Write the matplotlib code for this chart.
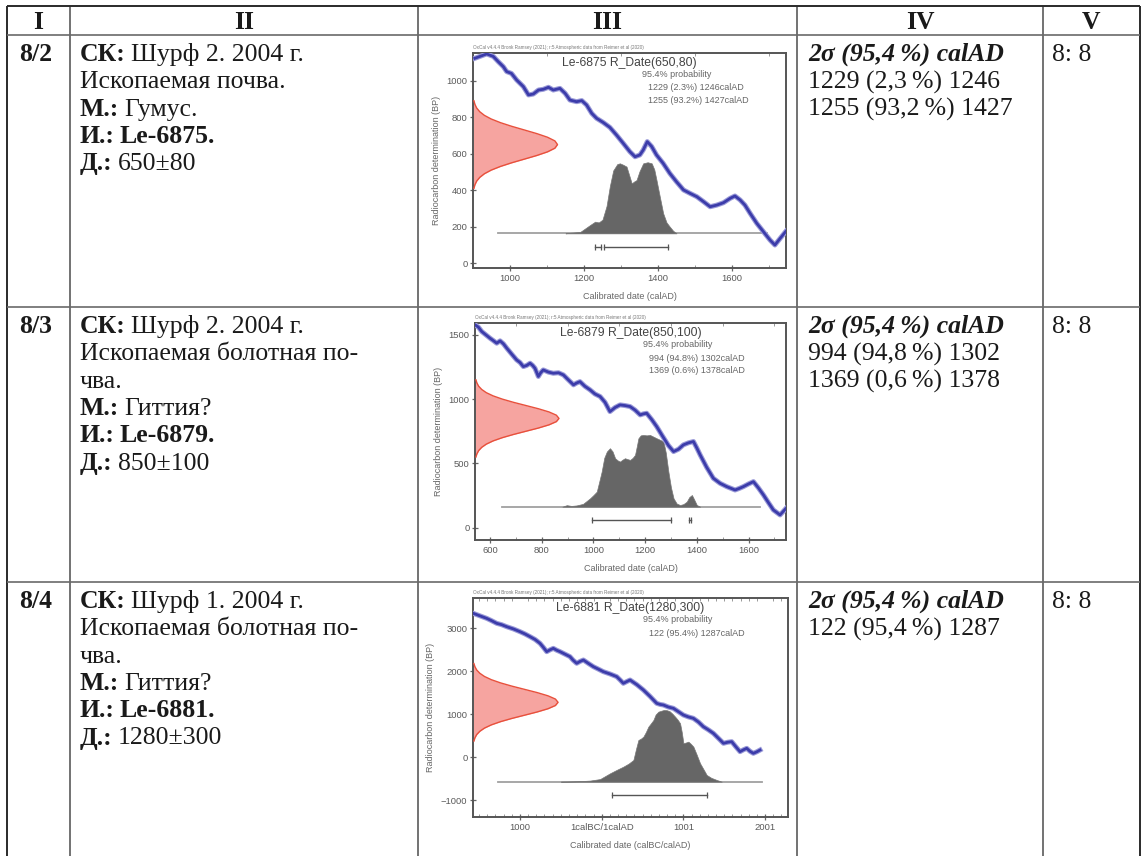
import matplotlib
matplotlib.use("Agg")
import matplotlib.pyplot as plt
import matplotlib.transforms as mtransforms
from matplotlib.ticker import MultipleLocator, FixedLocator

W, H = 1142, 856

# ---------------- table content ----------------
headers = ["I", "II", "III", "IV", "V"]
row_ids = ["8/2", "8/3", "8/4"]
row_sk = ["Шурф 2. 2004 г.", "Шурф 2. 2004 г.", "Шурф 1. 2004 г."]
row_desc = [["Ископаемая почва."],
            ["Ископаемая болотная по-", "чва."],
            ["Ископаемая болотная по-", "чва."]]
row_material = ["Гумус.", "Гиттия?", "Гиттия?"]
row_lab = ["Le-6875.", "Le-6879.", "Le-6881."]
row_date = ["650±80", "850±100", "1280±300"]
row_cal_head = "2σ (95,4\u2009%) calAD"
row_cal = [["1229 (2,3\u2009%) 1246", "1255 (93,2\u2009%) 1427"],
           ["994 (94,8\u2009%) 1302", "1369 (0,6\u2009%) 1378"],
           ["122 (95,4\u2009%) 1287"]]
row_ref = ["8: 8", "8: 8", "8: 8"]

# ---------------- OxCal plot content ----------------
c14_name = ["Le-6875 R_Date(650,80)", "Le-6879 R_Date(850,100)", "Le-6881 R_Date(1280,300)"]
c14_mean = [650, 850, 1280]
c14_sd = [80, 100, 300]
range_txt = [["1229 (2.3%) 1246calAD", "1255 (93.2%) 1427calAD"],
             ["994 (94.8%) 1302calAD", "1369 (0.6%) 1378calAD"],
             ["122 (95.4%) 1287calAD"]]
ranges = [[(1229, 1246), (1255, 1427)],
          [(994, 1302), (1369, 1378)],
          [(122, 1287)]]
xlabels = ["Calibrated date (calAD)", "Calibrated date (calAD)", "Calibrated date (calBC/calAD)"]

# calibration curves (cal year, BP)
cal1_x = [905, 937, 955, 968, 982, 991, 1004, 1018, 1036, 1050, 1063, 1077, 1090, 1104, 1117, 1135,
          1149, 1162, 1180, 1194, 1207, 1221, 1234, 1252, 1270, 1288, 1306, 1324, 1338, 1351, 1360,
          1371, 1383, 1396, 1414, 1432, 1450, 1469, 1487, 1505, 1523, 1541, 1559, 1577, 1595, 1608,
          1622, 1635, 1649, 1667, 1685, 1703, 1716, 1730, 1746]
cal1_y = [1123, 1147, 1133, 1105, 1077, 1050, 1040, 1004, 968, 922, 927, 949, 953, 964, 949, 958,
          931, 894, 885, 891, 867, 821, 794, 771, 744, 702, 657, 611, 583, 593, 620,
          666, 639, 593, 547, 492, 446, 401, 382, 364, 337, 309, 318, 331, 355, 368,
          346, 318, 273, 218, 172, 126, 99, 135, 175]
cal2_x = [542, 555, 568, 584, 600, 613, 626, 639, 652, 665, 684, 703, 716, 729, 742, 755, 765, 774,
          787, 796, 806, 826, 845, 865, 884, 903, 923, 935, 948, 967, 987, 1006, 1026, 1045, 1064,
          1084, 1103, 1122, 1142, 1161, 1181, 1193, 1206, 1226, 1245, 1265, 1290, 1310, 1329, 1348,
          1368, 1387, 1400, 1413, 1438, 1464, 1490, 1516, 1548, 1564, 1580, 1600, 1619, 1638, 1658,
          1677, 1696, 1722, 1745]
cal2_y = [1578, 1560, 1526, 1500, 1474, 1455, 1435, 1453, 1430, 1396, 1350, 1305, 1285, 1253, 1262,
          1279, 1262, 1240, 1176, 1205, 1227, 1210, 1201, 1205, 1188, 1150, 1111, 1125, 1136, 1100,
          1072, 1040, 1020, 975, 903, 935, 955, 950, 942, 915, 877, 885, 890, 840, 786, 720, 640, 592,
          610, 644, 660, 670, 620, 566, 470, 384, 345, 319, 293, 305, 319, 340, 358, 310, 254, 195,
          138, 99, 150]
cal3_x = [-1571, -1490, -1408, -1350, -1285, -1225, -1163, -1080, -1000, -940, -877, -815, -755,
          -715, -673, -632, -592, -550, -510, -450, -388, -350, -306, -265, -224, -160, -102, -40,
          20, 100, 184, 225, 265, 305, 347, 430, 510, 590, 673, 715, 755, 815, 878, 940, 1000, 1060,
          1122, 1185, 1244, 1305, 1367, 1430, 1490, 1540, 1591, 1640, 1693, 1735, 1775, 1815, 1856,
          1900, 1938]
cal3_y = [3348, 3290, 3232, 3180, 3116, 3085, 3038, 2985, 2922, 2870, 2806, 2740, 2651, 2560,
          2457, 2500, 2534, 2490, 2457, 2400, 2341, 2260, 2186, 2230, 2263, 2180, 2108, 2050,
          1992, 1940, 1876, 1800, 1721, 1760, 1798, 1690, 1566, 1420, 1256, 1230, 1217, 1170,
          1139, 1060, 984, 940, 907, 820, 713, 640, 558, 440, 326, 350, 364, 250, 132, 175, 209,
          140, 93, 130, 170]
cal_x = [cal1_x, cal2_x, cal3_x]
cal_y = [cal1_y, cal2_y, cal3_y]

# calibrated probability (cal year, height above baseline in BP units)
post1_x = [1150, 1162, 1190, 1216, 1230, 1240, 1250, 1261, 1270, 1279, 1290, 1297, 1306, 1315, 1322,
           1329, 1336, 1342, 1350, 1360, 1372, 1383, 1390, 1396, 1405, 1414, 1423, 1432, 1441, 1450]
post1_h = [0, 3, 8, 45, 64, 60, 75, 150, 260, 345, 380, 384, 376, 366, 320, 274, 285, 292, 340,
           384, 390, 384, 350, 292, 200, 110, 60, 36, 14, 0]
post2_x = [880, 897, 915, 935, 960, 987, 1000, 1013, 1022, 1032, 1042, 1052, 1064, 1074, 1084, 1094,
           1103, 1112, 1122, 1132, 1142, 1152, 1161, 1168, 1174, 1183, 1193, 1206, 1219, 1232, 1245,
           1258, 1271, 1280, 1290, 1300, 1310, 1322, 1335, 1348, 1361, 1371, 1381, 1390, 1400, 1413]
post2_h = [0, 12, 6, 10, 22, 65, 90, 117, 190, 273, 380, 429, 455, 430, 377, 360, 351, 365, 377,
           370, 364, 380, 403, 470, 532, 555, 558, 555, 558, 545, 532, 520, 507, 420, 273, 150, 65,
           25, 13, 20, 39, 75, 91, 55, 13, 0]
post3_x = [-500, -388, -260, -143, -20, 102, 180, 265, 330, 388, 420, 449, 480, 510, 540, 571, 600,
           633, 660, 694, 730, 760, 796, 830, 865, 898, 930, 959, 980, 1000, 1030, 1061, 1090, 1122,
           1160, 1204, 1245, 1285, 1340, 1408, 1469]
post3_h = [0, 5, 12, 25, 60, 194, 270, 349, 420, 504, 760, 969, 1000, 1047, 1150, 1279, 1350, 1434,
           1560, 1628, 1650, 1666, 1662, 1640, 1580, 1512, 1440, 1357, 1150, 892, 910, 930, 880,
           814, 640, 426, 290, 155, 90, 39, 0]
post_x = [post1_x, post2_x, post3_x]
post_h = [post1_h, post2_h, post3_h]
post_base = [163, 163, -566]
post_span = [(968, 1694), (645, 1645), (-1265, 1958)]

# normal profile of the radiocarbon date, read in sigma steps
prof_s = [-3.0, -2.75, -2.5, -2.25, -2.0, -1.75, -1.5, -1.25, -1.0, -0.75, -0.5, -0.25, 0.0,
          0.25, 0.5, 0.75, 1.0, 1.25, 1.5, 1.75, 2.0, 2.25, 2.5, 2.75, 3.0]
prof_v = [0.011, 0.023, 0.044, 0.080, 0.135, 0.216, 0.325, 0.458, 0.607, 0.755, 0.882, 0.969, 1.0,
          0.969, 0.882, 0.755, 0.607, 0.458, 0.325, 0.216, 0.135, 0.080, 0.044, 0.023, 0.011]

# axes setup per plot
xlims = [(900, 1746), (542, 1745), (-1575, 2280)]
ylims = [(-27, 1152), (-96, 1592), (-1388, 3705)]
xticks = [[1000, 1200, 1400, 1600], [600, 800, 1000, 1200, 1400, 1600], [-1000, 0, 1000, 2000]]
xticklabels = [["1000", "1200", "1400", "1600"],
               ["600", "800", "1000", "1200", "1400", "1600"],
               ["1000", "1calBC/1calAD", "1001", "2001"]]
yticks = [[0, 200, 400, 600, 800, 1000], [0, 500, 1000, 1500], [-1000, 0, 1000, 2000, 3000]]
boxes = [(473, 53, 786, 268), (475, 323, 786, 540), (473, 598, 788, 817)]
range_y = [90, 60, -876]

# ---------------- figure ----------------
fig = plt.figure(figsize=(W / 100, H / 100), dpi=100)
bg = fig.add_axes([0, 0, 1, 1])
bg.set_xlim(0, W)
bg.set_ylim(H, 0)
bg.axis("off")

col_x = [7, 70, 418, 797, 1043, 1140]
row_y = [6, 35, 307, 582]
for i, x in enumerate(col_x):
    outer = i in (0, len(col_x) - 1)
    bg.plot([x, x], [row_y[0], H], color="#2a2a2a" if outer else "#5a5a5a",
            lw=1.4 if outer else 1.2, solid_capstyle="butt")
for i, y in enumerate(row_y):
    bg.plot([col_x[0], col_x[-1]], [y, y], color="#2a2a2a" if i == 0 else "#6a6a6a",
            lw=1.4 if i == 0 else 1.2, solid_capstyle="butt")

serif = ["Liberation Serif", "DejaVu Serif"]
FS = 18.5
renderer = fig.canvas.get_renderer()


def rich(x, y, parts):
    for k, (s, w, st) in enumerate(parts):
        t = bg.text(x, y, s, fontsize=FS, fontweight=w, fontstyle=st, family=serif,
                    ha="left", va="baseline", color="#1a1a1a")
        x += t.get_window_extent(renderer).width + 5


for i, h in enumerate(headers):
    bg.text((col_x[i] + col_x[i + 1]) / 2, 29, h, fontsize=FS, fontweight="bold",
            family=serif, ha="center", va="baseline", color="#1a1a1a")

line_h = 27.3
first_base = [61, 333, 608]
for r in range(3):
    y0 = first_base[r]
    rich(19, y0, [(row_ids[r], "bold", "normal")])
    lines = [[("СК:", "bold", "normal"), (row_sk[r], "normal", "normal")]]
    for d in row_desc[r]:
        lines.append([(d, "normal", "normal")])
    lines.append([("М.:", "bold", "normal"), (row_material[r], "normal", "normal")])
    lines.append([("И.:", "bold", "normal"), (row_lab[r], "bold", "normal")])
    lines.append([("Д.:", "bold", "normal"), (row_date[r], "normal", "normal")])
    for k, ln in enumerate(lines):
        rich(80, y0 + k * line_h, ln)
    rich(808, y0, [(row_cal_head, "bold", "italic")])
    for k, s in enumerate(row_cal[r]):
        rich(808, y0 + (k + 1) * line_h, [(s, "normal", "normal")])
    rich(1052, y0, [(row_ref[r], "normal", "normal")])

# ---------------- OxCal plots ----------------
sans = ["Liberation Sans", "DejaVu Sans"]
for p in range(3):
    l, t, r, b = boxes[p]
    ax = fig.add_axes([l / W, 1 - b / H, (r - l) / W, (b - t) / H])
    ax.set_xlim(*xlims[p])
    ax.set_ylim(*ylims[p])
    for s in ax.spines.values():
        s.set_color("#555555")
        s.set_linewidth(1.4)

    # radiocarbon date on the y axis
    tr = mtransforms.blended_transform_factory(ax.transAxes, ax.transData)
    gy = [c14_mean[p] + s * c14_sd[p] for s in prof_s]
    gx = [0.27 * v for v in prof_v]
    ax.fill_betweenx(gy, 0, gx, transform=tr, color="#f6a4a0", lw=0, zorder=2)
    ax.plot(gx, gy, transform=tr, color="#e8503c", lw=1.0, zorder=3)

    # calibration curve
    ax.plot(cal_x[p], cal_y[p], color="#9a9ad8", lw=3.6, zorder=4, solid_joinstyle="round")
    ax.plot(cal_x[p], cal_y[p], color="#3c3caa", lw=2.0, zorder=5, solid_joinstyle="round")

    # calibrated distribution
    base = post_base[p]
    ax.plot(post_span[p], [base, base], color="#a0a0a0", lw=1.3, zorder=2)
    ax.fill_between(post_x[p], base, [base + h for h in post_h[p]], color="#666666",
                    lw=0.5, edgecolor="#777777", zorder=3)

    # ranges
    for a, c in ranges[p]:
        ax.plot([a, c], [range_y[p], range_y[p]], color="#555555", lw=1.0, zorder=3)
        ax.plot([a, c], [range_y[p], range_y[p]], ls="none", marker="|", ms=4,
                color="#555555", mew=0.9, zorder=3)

    # texts
    ax.text(0.5, 0.955, c14_name[p], transform=ax.transAxes, ha="center", va="center",
            fontsize=8.7, family=sans, color="#444444")
    ax.text(0.54, 0.9, "95.4% probability", transform=ax.transAxes, ha="left", va="center",
            fontsize=6.5, family=sans, color="#666666")
    for k, s in enumerate(range_txt[p]):
        ax.text(0.56, 0.838 - k * 0.058, s, transform=ax.transAxes, ha="left", va="center",
                fontsize=6.5, family=sans, color="#666666")
    ax.text(0.0, 1.012, "OxCal v4.4.4 Bronk Ramsey (2021); r:5 Atmospheric data from Reimer et al (2020)",
            transform=ax.transAxes, ha="left", va="bottom", fontsize=3.3, family=sans,
            color="#777777")

    ax.xaxis.set_major_locator(FixedLocator(xticks[p]))
    ax.set_xticklabels(xticklabels[p])
    ax.yaxis.set_major_locator(FixedLocator(yticks[p]))
    ax.xaxis.set_minor_locator(MultipleLocator(100))
    ax.tick_params(which="major", direction="inout", length=5, width=0.9, color="#666666",
                   labelsize=6.8, labelcolor="#5a5a5a", pad=1.5)
    ax.tick_params(which="minor", direction="in", length=2, width=0.6, color="#888888",
                   top=True)
    for lab in ax.get_xticklabels() + ax.get_yticklabels():
        lab.set_family(sans)
    ax.set_xlabel(xlabels[p], fontsize=6.5, family=sans, color="#666666", labelpad=7)
    ax.set_ylabel("Radiocarbon determination (BP)", fontsize=6.5, family=sans,
                  color="#666666", labelpad=4)

fig.savefig("out.png", dpi=100)
